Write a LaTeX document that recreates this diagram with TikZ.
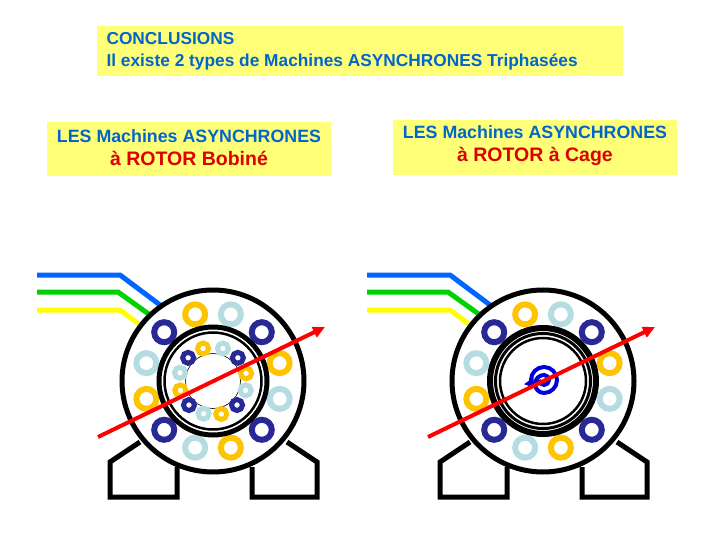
\documentclass[tikz,border=0pt]{standalone}
\usepackage{fontspec}
\setmainfont{Liberation Sans}
\usetikzlibrary{arrows.meta,calc}
\definecolor{boxy}{RGB}{255,255,120}
\definecolor{tblue}{RGB}{0,102,204}
\definecolor{tred}{RGB}{220,0,0}
\definecolor{cy}{RGB}{255,196,0}
\definecolor{cn}{RGB}{40,40,150}
\definecolor{cl}{RGB}{180,220,225}
\definecolor{wb}{RGB}{0,102,255}
\definecolor{wg}{RGB}{0,210,0}
\definecolor{wy}{RGB}{255,255,0}
\tikzset{
  ybox/.style={fill=boxy,inner sep=0pt,anchor=north west},
  heavy/.style={line width=5pt,black},
  wire/.style={line width=5pt},
}
\begin{document}
\begin{tikzpicture}[x=1pt,y=-1pt,font=\bfseries]
\useasboundingbox (0,0) rectangle (720,540);
\fill[white] (0,0) rectangle (720,540);
% text boxes
\node[ybox,minimum width=526pt,minimum height=50pt] (top) at (97,26) {};
\node[anchor=west,text=tblue,align=left,font=\bfseries\fontsize{17.3}{22}\selectfont] (toptext) at (103,51) {CONCLUSIONS\\Il existe 2 types de Machines ASYNCHRONES Triphasées};
\node[ybox,minimum width=284pt,minimum height=54pt] (lb) at (47,122) {};
\node[align=center,font=\bfseries\fontsize{17.8}{23}\selectfont] (lt) at (189,148) {\textcolor{tblue}{LES Machines ASYNCHRONES}\\\textcolor{tred}{\fontsize{19.5}{23}\selectfont à ROTOR Bobiné}};
\node[ybox,minimum width=284pt,minimum height=55pt] (rb) at (393,120) {};
\node[align=center,font=\bfseries\fontsize{17.8}{23}\selectfont] (rt) at (535,146) {\textcolor{tblue}{LES Machines ASYNCHRONES}\\\textcolor{tred}{\fontsize{19.5}{23}\selectfont à ROTOR à Cage}};

\foreach \dx/\m in {0/L,330/R}{
\begin{scope}[xshift=\dx pt]
  \coordinate (c\m) at (213,381);
  % wires
  \draw[wire,wb] (37,275) -- (120,275) -- (160,305);
  \draw[wire,wg] (37,292) -- (118,292) -- (150,315);
  \draw[wire,wy] (37,310) -- (120,310) -- (140,325);
  % feet
  \draw[heavy,line join=miter] (140,442) -- (110,462) -- (110,497) -- (177,497) -- (177,467);
  \draw[heavy,line join=miter] (287,442) -- (317,462) -- (317,497) -- (252,497) -- (252,467);
  % stator
  \draw[heavy,fill=white] (c\m) circle (91);
  \foreach \a/\c in {15/cy,45/cn,75/cl,105/cy,135/cn,165/cl,195/cy,225/cn,255/cl,285/cy,315/cn,345/cl}
    \draw[\c,line width=6pt] ($(c\m)+(-\a:69)$) circle (10);
\end{scope}}
% left rotor
\draw[heavy] (cL) circle (54);
\draw[black,line width=2.5pt] (cL) circle (48.5);
\draw[black,line width=0.6pt] (cL) circle (27.5);
\foreach \a/\c in {13/cy,43/cn,73/cl,107/cy,137/cn,166/cl,196/cy,225/cn,254/cl,284/cy,315/cn,344/cl}
  \draw[\c,line width=5pt] ($(cL)+(-\a:34)$) circle (5.5);
% right rotor
\draw[black,line width=6pt] (cR) circle (53);
\draw[black,line width=3pt] (cR) circle (47.5);
\draw[black,line width=2.5pt] (cR) circle (43);
% swirl
\draw[blue!85!black,line width=4pt,-{Triangle[length=8pt,width=11pt]}]
  ($(cR)+(-4,-1)$) arc[start angle=180,end angle=-90,radius=5]
  arc[start angle=-90,end angle=-270,radius=9] arc[start angle=90,end angle=-215,radius=13];
% red arrows
\foreach \dx/\m in {0/L,330/R}
  \draw[red,line width=4pt,-{Triangle[length=12pt,width=11pt]}] (98+\dx,437) -- (325+\dx,327);
\end{tikzpicture}
\end{document}
